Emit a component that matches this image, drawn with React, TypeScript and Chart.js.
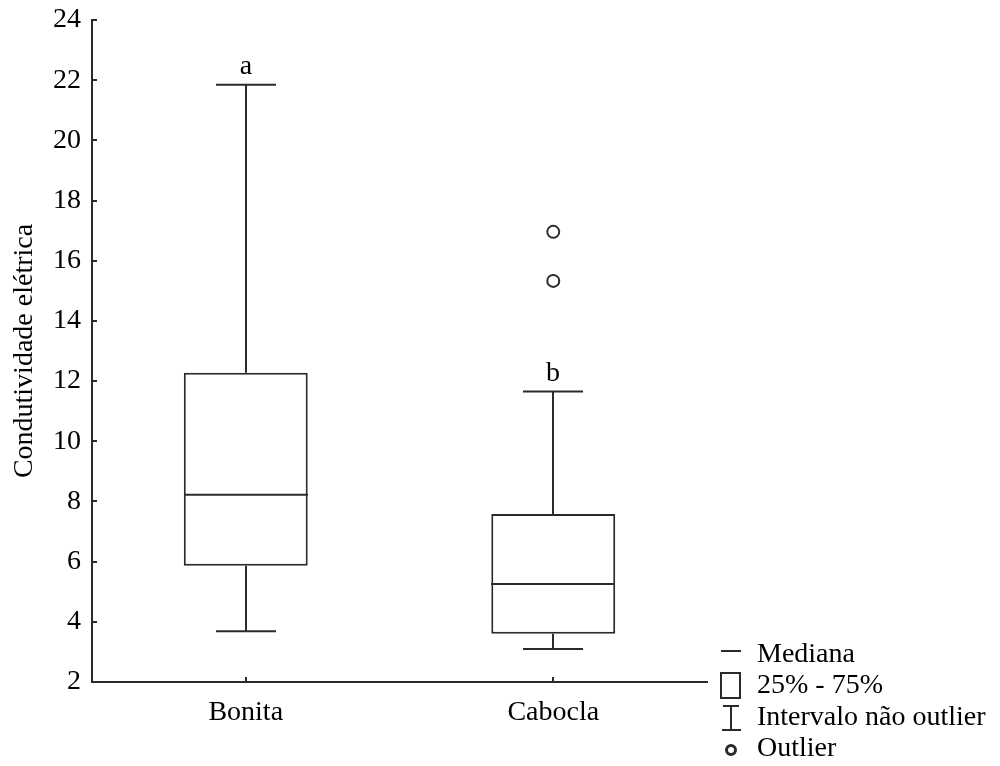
import React, { useEffect, useRef } from "react";
import { Chart, registerables } from "chart.js";

Chart.register(...registerables);

const categories = ["Bonita", "Cabocla"];
const whiskerLow = [3.69, 3.1];
const q1 = [5.86, 3.6];
const median = [8.22, 5.26];
const q3 = [12.28, 7.58];
const whiskerHigh = [21.85, 11.65];
const letters = ["a", "b"];
const outliers = [
  { x: "Cabocla", y: 16.96 },
  { x: "Cabocla", y: 15.33 },
];
const yTicks = [2, 4, 6, 8, 10, 12, 14, 16, 18, 20, 22, 24];
const legendLabels = ["Mediana", "25% - 75%", "Intervalo não outlier", "Outlier"];

const FONT = "'Liberation Serif', 'Times New Roman', serif";
const LINE = "#2b2b2b";

export default function App() {
  const ref = useRef<HTMLCanvasElement | null>(null);

  useEffect(() => {
    if (!ref.current) return;
    const boxPlugin = {
      id: "boxExtras",
      afterDatasetsDraw(chart: any) {
        const ctx = chart.ctx;
        const xs = chart.scales.x;
        const ys = chart.scales.y;
        const area = chart.chartArea;
        ctx.save();
        ctx.strokeStyle = LINE;
        ctx.lineWidth = 2;
        yTicks.forEach((v) => {
          const py = Math.round(ys.getPixelForValue(v));
          ctx.beginPath();
          ctx.moveTo(area.left, py);
          ctx.lineTo(area.left + 5, py);
          ctx.stroke();
        });
        categories.forEach((c, i) => {
          const cx = Math.round(xs.getPixelForValue(i));
          ctx.beginPath();
          ctx.moveTo(cx, area.bottom);
          ctx.lineTo(cx, area.bottom - 5);
          ctx.stroke();
          const capHalf = 30;
          const boxHalf = 62;
          const yHi = ys.getPixelForValue(whiskerHigh[i]);
          const yQ3 = ys.getPixelForValue(q3[i]);
          const yQ1 = ys.getPixelForValue(q1[i]);
          const yLo = ys.getPixelForValue(whiskerLow[i]);
          const yMed = ys.getPixelForValue(median[i]);
          ctx.beginPath();
          ctx.moveTo(cx, yHi);
          ctx.lineTo(cx, yQ3);
          ctx.moveTo(cx - capHalf, yHi);
          ctx.lineTo(cx + capHalf, yHi);
          ctx.moveTo(cx, yQ1);
          ctx.lineTo(cx, yLo);
          ctx.moveTo(cx - capHalf, yLo);
          ctx.lineTo(cx + capHalf, yLo);
          ctx.moveTo(cx - boxHalf, yMed);
          ctx.lineTo(cx + boxHalf, yMed);
          ctx.stroke();
          ctx.fillStyle = "#000";
          ctx.font = `28px ${FONT}`;
          ctx.textAlign = "center";
          ctx.textBaseline = "alphabetic";
          ctx.fillText(letters[i], cx, yHi - 11);
        });
        // legend
        const lx = 721;
        const tx = 757;
        ctx.font = `28px ${FONT}`;
        ctx.textAlign = "left";
        ctx.textBaseline = "middle";
        ctx.fillStyle = "#000";
        const rows = [655, 686, 718, 749];
        rows.forEach((ry, k) => ctx.fillText(legendLabels[k], tx, ry));
        ctx.lineWidth = 2;
        ctx.beginPath();
        ctx.moveTo(lx, 651);
        ctx.lineTo(lx + 20, 651);
        ctx.stroke();
        ctx.strokeRect(lx, 673, 19, 25);
        ctx.beginPath();
        ctx.moveTo(lx + 2, 706);
        ctx.lineTo(lx + 18, 706);
        ctx.moveTo(lx + 10, 706);
        ctx.lineTo(lx + 10, 730);
        ctx.moveTo(lx + 1, 730);
        ctx.lineTo(lx + 20, 730);
        ctx.stroke();
        ctx.lineWidth = 3;
        ctx.beginPath();
        ctx.arc(lx + 10, 750, 4.5, 0, Math.PI * 2);
        ctx.stroke();
        ctx.restore();
      },
    };

    const chart = new Chart(ref.current, {
      type: "bar",
      data: {
        labels: categories,
        datasets: [
          {
            type: "bar",
            data: categories.map((_, i) => [q1[i], q3[i]]) as any,
            backgroundColor: "#ffffff",
            borderColor: LINE,
            borderWidth: 2,
            borderSkipped: false,
            categoryPercentage: 1,
            barPercentage: 0.403,
          } as any,
          {
            type: "line",
            data: outliers as any,
            showLine: false,
            pointRadius: 6,
            pointBorderWidth: 2,
            pointBorderColor: LINE,
            pointBackgroundColor: "#ffffff",
          } as any,
        ],
      },
      options: {
        animation: false,
        responsive: false,
        maintainAspectRatio: false,
        layout: { padding: { left: 0, right: 293, top: 20, bottom: 0 } },
        plugins: { legend: { display: false }, tooltip: { enabled: false } },
        scales: {
          x: {
            type: "category",
            grid: { display: false, drawTicks: false },
            border: { display: true, color: LINE, width: 2 },
            ticks: { color: "#000", font: { family: FONT, size: 28 }, padding: 14 },
            afterFit: (s: any) => {
              s.height = 84;
              s.paddingLeft = 0;
              s.paddingRight = 0;
            },
          },
          y: {
            min: 2,
            max: 24,
            grid: { display: false, drawTicks: false },
            border: { display: true, color: LINE, width: 2 },
            ticks: {
              stepSize: 2,
              color: "#000",
              font: { family: FONT, size: 28 },
              padding: 11,
            },
            title: {
              display: true,
              text: "Condutividade elétrica",
              color: "#000",
              font: { family: FONT, size: 28 },
              padding: { top: 8, bottom: 4 },
            },
            afterFit: (s: any) => {
              s.width = 92;
              s.paddingTop = 0;
              s.paddingBottom = 0;
            },
          },
        },
      },
      plugins: [boxPlugin],
    } as any);
    return () => chart.destroy();
  }, []);

  return (
    <div style={{ position: "fixed", left: 0, top: 0, width: 1000, height: 766, background: "#fff" }}>
      <canvas ref={ref} width={1000} height={766} style={{ width: 1000, height: 766 }} />
    </div>
  );
}
